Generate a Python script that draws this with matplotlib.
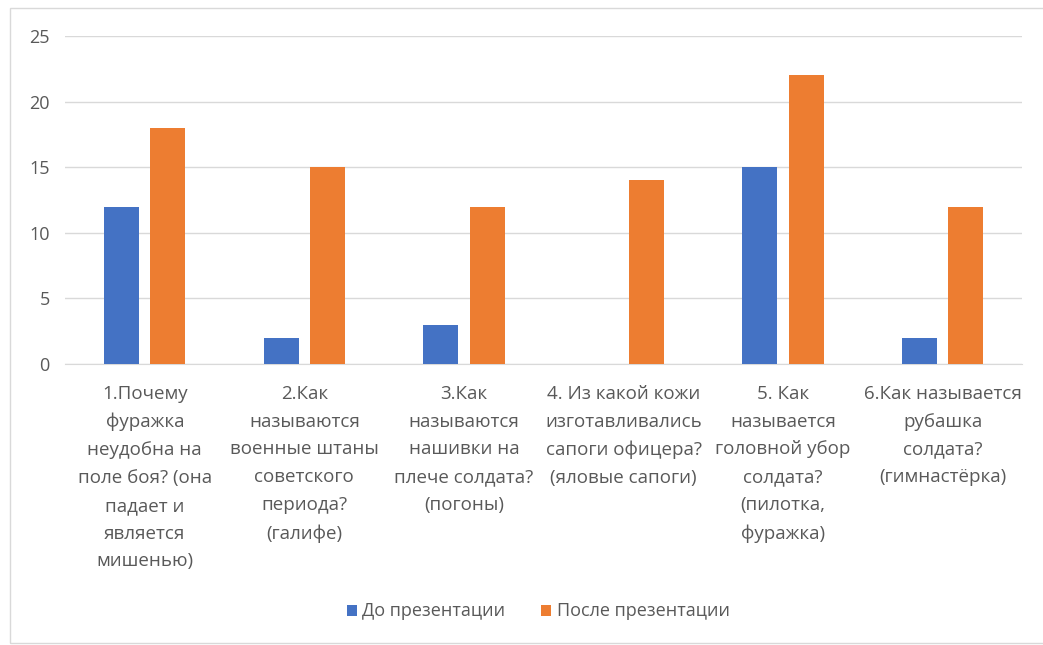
import matplotlib.pyplot as plt
from matplotlib.patches import Rectangle
import numpy as np

plt.rcParams['font.family'] = ['Open Sans', 'DejaVu Sans']

categories = [
    "1.Почему\nфуражка\nнеудобна на\nполе боя? (она\nпадает и\nявляется\nмишенью)",
    "2.Как\nназываются\nвоенные штаны\nсоветского\nпериода?\n(галифе)",
    "3.Как\nназываются\nнашивки на\nплече солдата?\n(погоны)",
    "4. Из какой кожи\nизготавливались\nсапоги офицера?\n(яловые сапоги)",
    "5. Как\nназывается\nголовной убор\nсолдата?\n(пилотка,\nфуражка)",
    "6.Как называется\nрубашка\nсолдата?\n(гимнастёрка)",
]
before = [12, 2, 3, 0, 15, 2]
after = [18, 15, 12, 14, 22, 12]
series_names = ["До презентации", "После презентации"]

text_color = '#595959'
grid_color = '#d9d9d9'

fig = plt.figure(figsize=(10.43, 6.45), dpi=100)
ax = fig.add_axes([0.0623, 0.4357, 0.918, 0.5086])

x = np.arange(len(categories))
w = 0.22
ax.bar(x - 0.145, before, w, color='#4472C4', label=series_names[0], zorder=3)
ax.bar(x + 0.145, after, w, color='#ED7D31', label=series_names[1], zorder=3)

ax.set_xlim(-0.5, len(categories) - 0.5)
ax.set_ylim(0, 25)
ax.set_yticks(range(0, 26, 5))
ax.yaxis.grid(True, color=grid_color, linewidth=1, zorder=0)
for s in ax.spines.values():
    s.set_visible(False)
ax.spines['bottom'].set_visible(True)
ax.spines['bottom'].set_color(grid_color)
ax.tick_params(axis='both', length=0, colors=text_color)
ax.tick_params(axis='y', pad=11, labelsize=13)
ax.set_xticks(x)
ax.set_xticklabels(categories, linespacing=1.7, fontsize=13.5)
ax.tick_params(axis='x', pad=15)

ax.legend(loc='center', bbox_to_anchor=(0.516, 0.052), bbox_transform=fig.transFigure,
          ncol=2, frameon=False, fontsize=13, handlelength=0.55, handleheight=0.55,
          handletextpad=0.3, columnspacing=2.0, labelcolor=text_color)

# faint outer chart frame
fig.add_artist(Rectangle((10 / 1043, 2 / 645), 1.1, 1 - 10 / 645, transform=fig.transFigure,
                         fill=False, edgecolor=grid_color, linewidth=1))

fig.savefig('out.png', dpi=100)
